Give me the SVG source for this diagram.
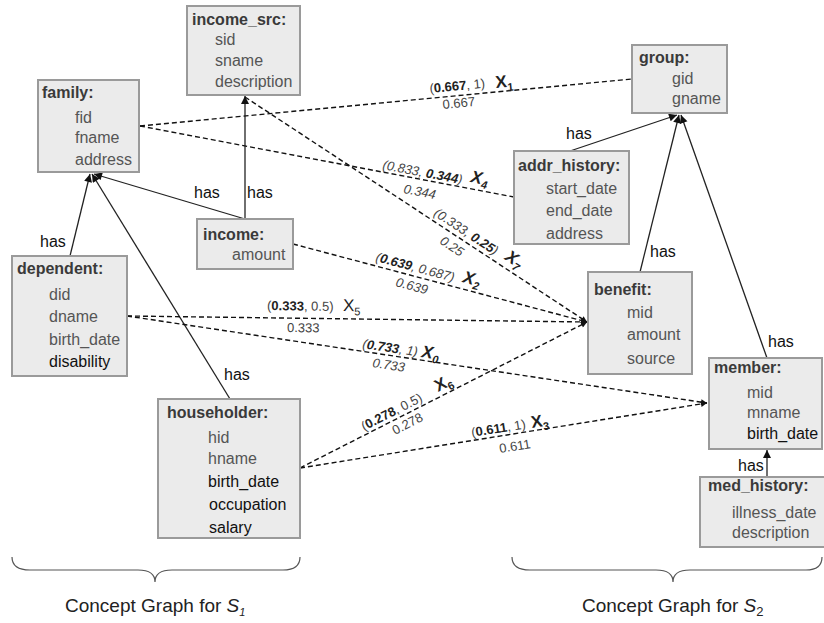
<svg xmlns="http://www.w3.org/2000/svg" width="824" height="623" viewBox="0 0 824 623">
<style>
text{font-family:"Liberation Sans",Arial,sans-serif}
.box{fill:#ebebeb;stroke:#9a9a9a;stroke-width:2}
.tt{font-size:16px;font-weight:bold;fill:#3a3a3a}
.fd{font-size:16px;fill:#555}
.fk{font-size:16px;fill:#111}
.has{font-size:16px;fill:#111}
.sl{stroke:#222;stroke-width:1.3;fill:none}
.dl{stroke:#111;stroke-width:1.4;fill:none;stroke-dasharray:5 3}
.el{font-size:13px;fill:#444}
.it{font-style:italic}
.b{font-weight:bold;fill:#222}
.xl{font-size:17px;font-weight:bold;fill:#222}
.sub{font-size:11px}
.br{stroke:#555;stroke-width:1.2;fill:none}
.cap{font-size:19px;fill:#222}
</style>
<defs>
<marker id="ah" viewBox="0 0 10 10" refX="10" refY="5" markerWidth="9" markerHeight="8" markerUnits="userSpaceOnUse" orient="auto">
<path d="M0,0 L10,5 L0,10 z" fill="#111"/>
</marker>
<marker id="ad" viewBox="0 0 10 10" refX="10" refY="5" markerWidth="7" markerHeight="6" markerUnits="userSpaceOnUse" orient="auto">
<path d="M0,0 L10,5 L0,10 z" fill="#111"/>
</marker>
</defs>

<g id="connectors">
<line class="sl" x1="70" y1="256" x2="90" y2="174" marker-end="url(#ah)"/>
<line class="sl" x1="230" y1="399" x2="92" y2="174" marker-end="url(#ah)"/>
<line class="sl" x1="245" y1="219" x2="94" y2="174" marker-end="url(#ah)"/>
<line class="sl" x1="245" y1="219" x2="245" y2="96" marker-end="url(#ah)"/>
<line class="sl" x1="570" y1="151" x2="677" y2="115" marker-end="url(#ah)"/>
<line class="sl" x1="640" y1="272" x2="679" y2="115" marker-end="url(#ah)"/>
<line class="sl" x1="767" y1="358" x2="681" y2="115" marker-end="url(#ah)"/>
<line class="sl" x1="767" y1="477" x2="767" y2="450" marker-end="url(#ah)"/>

<line class="dl" x1="140" y1="126" x2="632" y2="79"/>
<line class="dl" x1="140" y1="126" x2="514" y2="197"/>
<line class="dl" x1="245" y1="97" x2="587" y2="322" marker-end="url(#ad)"/>
<line class="dl" x1="293" y1="244" x2="587" y2="322" marker-end="url(#ad)"/>
<line class="dl" x1="127" y1="316" x2="587" y2="322" marker-end="url(#ad)"/>
<line class="dl" x1="127" y1="316" x2="707" y2="403" marker-end="url(#ad)"/>
<line class="dl" x1="300" y1="468" x2="587" y2="322" marker-end="url(#ad)"/>
<line class="dl" x1="300" y1="468" x2="707" y2="403" marker-end="url(#ad)"/>

<text class="has" x="40" y="247">has</text>
<text class="has" x="194" y="198">has</text>
<text class="has" x="247" y="198">has</text>
<text class="has" x="224" y="380">has</text>
<text class="has" x="566" y="139">has</text>
<text class="has" x="650" y="257">has</text>
<text class="has" x="768" y="347">has</text>
<text class="has" x="738" y="471">has</text>

<text class="el" x="430" y="93" transform="rotate(-5.5 430 93)">(<tspan class="b">0.667</tspan>, 1)</text>
<text class="xl" x="496" y="88" transform="rotate(-5.5 496 88)">X<tspan class="sub" dy="4">1</tspan></text>
<text class="el" x="443" y="109" transform="rotate(-5.5 443 109)">0.667</text>

<text class="el it" x="382" y="169" transform="rotate(10.75 382 169)">(0.833, <tspan class="b">0.344</tspan>)</text>
<text class="xl it" x="470" y="182" transform="rotate(10.75 470 182)">X<tspan class="sub" dy="4">4</tspan></text>
<text class="el it" x="403" y="193" transform="rotate(10.75 403 193)">0.344</text>

<text class="el it" x="433" y="215" transform="rotate(33.3 433 215)">(0.333, <tspan class="b">0.25</tspan>)</text>
<text class="xl it" x="504" y="259" transform="rotate(33.3 504 259)">X<tspan class="sub" dy="4">7</tspan></text>
<text class="el it" x="439" y="243" transform="rotate(33.3 439 243)">0.25</text>

<text class="el it" x="375" y="261" transform="rotate(14.9 375 261)">(<tspan class="b">0.639</tspan>, 0.687)</text>
<text class="xl it" x="462" y="282" transform="rotate(14.9 462 282)">X<tspan class="sub" dy="4">2</tspan></text>
<text class="el it" x="395" y="286" transform="rotate(14.9 395 286)">0.639</text>

<text class="el" x="267" y="310" transform="rotate(0.75 267 310)">(<tspan class="b">0.333</tspan>, 0.5)</text>
<text class="xl" x="343" y="311" style="font-weight:normal" transform="rotate(0.75 343 311)">X<tspan class="sub" dy="4">5</tspan></text>
<text class="el" x="287" y="332" transform="rotate(0.75 287 332)">0.333</text>

<text class="el it" x="362" y="348" transform="rotate(8.5 362 348)">(<tspan class="b">0.733</tspan>, 1)</text>
<text class="xl it" x="421" y="357" transform="rotate(8.5 421 357)">X<tspan class="sub" dy="4">0</tspan></text>
<text class="el it" x="372" y="367" transform="rotate(8.5 372 367)">0.733</text>

<text class="el" x="364" y="431" transform="rotate(-27 364 431)">(<tspan class="b">0.278</tspan>, 0.5)</text>
<text class="xl" x="438" y="392" transform="rotate(-27 438 392)">X<tspan class="sub" dy="4">6</tspan></text>
<text class="el" x="395" y="435" transform="rotate(-27 395 435)">0.278</text>

<text class="el" x="472" y="437" transform="rotate(-9 472 437)">(<tspan class="b">0.611</tspan>, 1)</text>
<text class="xl" x="532" y="428" transform="rotate(-9 532 428)">X<tspan class="sub" dy="4">3</tspan></text>
<text class="el" x="500" y="453" transform="rotate(-9 500 453)">0.611</text>
</g>

<g id="income_src">
<rect class="box" x="187" y="6" width="113" height="89"/>
<text class="tt" x="192" y="25">income_src:</text>
<text class="fd" x="215" y="45">sid</text>
<text class="fd" x="215" y="66">sname</text>
<text class="fd" x="215" y="87">description</text>
</g>

<g id="family">
<rect class="box" x="38" y="80" width="101" height="92"/>
<text class="tt" x="42" y="98">family:</text>
<text class="fd" x="75" y="123">fid</text>
<text class="fd" x="75" y="143">fname</text>
<text class="fd" x="75" y="165">address</text>
</g>

<g id="group">
<rect class="box" x="632" y="45" width="95" height="68"/>
<text class="tt" x="639" y="63">group:</text>
<text class="fd" x="672" y="84">gid</text>
<text class="fd" x="672" y="104">gname</text>
</g>

<g id="addr_history">
<rect class="box" x="514" y="151" width="115" height="93"/>
<text class="tt" x="518" y="171">addr_history:</text>
<text class="fd" x="546" y="194">start_date</text>
<text class="fd" x="546" y="216">end_date</text>
<text class="fd" x="546" y="239">address</text>
</g>

<g id="income">
<rect class="box" x="197" y="219" width="96" height="50"/>
<text class="tt" x="203" y="240">income:</text>
<text class="fd" x="232" y="260">amount</text>
</g>

<g id="dependent">
<rect class="box" x="12" y="256" width="115" height="120"/>
<text class="tt" x="17" y="274">dependent:</text>
<text class="fd" x="49" y="300">did</text>
<text class="fd" x="49" y="322">dname</text>
<text class="fd" x="49" y="345">birth_date</text>
<text class="fk" x="49" y="367">disability</text>
</g>

<g id="benefit">
<rect class="box" x="588" y="272" width="104" height="102"/>
<text class="tt" x="594" y="295">benefit:</text>
<text class="fd" x="627" y="318">mid</text>
<text class="fd" x="627" y="340">amount</text>
<text class="fd" x="627" y="364">source</text>
</g>

<g id="member">
<rect class="box" x="709" y="358" width="113" height="91"/>
<text class="tt" x="714" y="373">member:</text>
<text class="fd" x="747" y="398">mid</text>
<text class="fd" x="747" y="418">mname</text>
<text class="fk" x="747" y="439">birth_date</text>
</g>

<g id="med_history">
<rect class="box" x="700" y="477" width="126" height="70"/>
<text class="tt" x="708" y="491">med_history:</text>
<text class="fd" x="732" y="518">illness_date</text>
<text class="fd" x="732" y="538">description</text>
</g>

<g id="householder">
<rect class="box" x="158" y="399" width="142" height="139"/>
<text class="tt" x="167" y="418">householder:</text>
<text class="fd" x="208" y="443">hid</text>
<text class="fd" x="208" y="464">hname</text>
<text class="fk" x="208" y="487">birth_date</text>
<text class="fk" x="209" y="510">occupation</text>
<text class="fk" x="209" y="533">salary</text>
</g>

<g id="braces">
<path class="br" d="M12,557 Q12,570 30,570 L138,570 Q155,570 155,582 Q155,570 172,570 L283,570 Q300,570 300,557"/>
<path class="br" d="M512,557 Q512,570 530,570 L656,570 Q673,570 673,582 Q673,570 690,570 L806,570 Q822,570 822,557"/>
<text class="cap" x="65" y="612">Concept Graph for <tspan font-style="italic">S</tspan><tspan class="sub" font-style="italic" font-size="13" dy="4">1</tspan></text>
<text class="cap" x="582" y="612">Concept Graph for <tspan font-style="italic">S</tspan><tspan font-size="13" dy="4">2</tspan></text>
</g>
</svg>
